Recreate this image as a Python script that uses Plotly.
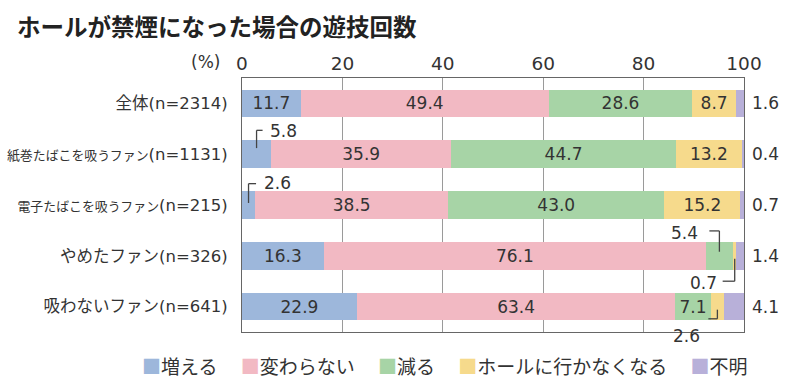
import plotly.graph_objects as go

# ---------------- data ----------------
title_text = "ホールが禁煙になった場合の遊技回数"
categories = ["全体(n=2314)", "紙巻たばこを吸うファン(n=1131)", "電子たばこを吸うファン(n=215)",
              "やめたファン(n=326)", "吸わないファン(n=641)"]
series_names = ["増える", "変わらない", "減る", "ホールに行かなくなる", "不明"]
increase = [11.7, 5.8, 2.6, 16.3, 22.9]
unchanged = [49.4, 35.9, 38.5, 76.1, 63.4]
decrease = [28.6, 44.7, 43.0, 5.4, 7.1]
stop_going = [8.7, 13.2, 15.2, 0.7, 2.6]
unknown = [1.6, 0.4, 0.7, 1.4, 4.1]
x_ticks = [0, 20, 40, 60, 80, 100]
unit_label = "(%)"

# ---------------- style ----------------
CJK = "Noto Sans CJK JP"
NUM = "DejaVu Sans, Noto Sans CJK JP"
TXT = "#333333"
colors = ["#9DB7DB", "#F2B9C3", "#A7D4A6", "#F6DA8C", "#B8B0D9"]
name_sizes = [16.5, 12.9, 12.9, 16.5, 16.5]
INSIDE_MIN = 7.0
PLOT_H = 392 - 78 - 60
ROW_PX = PLOT_H / len(categories)

series = [increase, unchanged, decrease, stop_going, unknown]
rows = list(range(len(categories)))

fig = go.Figure()
for s, (name, vals, col) in enumerate(zip(series_names, series, colors)):
    texts = [f"{v:.1f}" if (v >= INSIDE_MIN and s < len(series) - 1) else "" for v in vals]
    fig.add_trace(go.Bar(
        x=vals, y=rows, orientation="h", name=name, width=0.54,
        marker=dict(color=col, line=dict(width=0)),
        text=texts, textposition="inside", insidetextanchor="middle", textangle=0,
        constraintext="none",
        textfont=dict(size=17, color=TXT, family=NUM),
        showlegend=False, hoverinfo="skip", cliponaxis=False,
    ))

annotations = []
shapes = []

# right-hand labels for the last series
for i, v in enumerate(unknown):
    annotations.append(dict(x=100, y=i, xref="x", yref="y", text=f"{v:.1f}", showarrow=False,
                            xanchor="left", yanchor="middle", xshift=6,
                            font=dict(size=17, color=TXT, family=NUM)))

# callouts for small segments: (row, series index, horizontal dir, vertical dir, y_start, y_end, h_len, text_gap, text_dy)
callouts = [
    (1, 0, +1, -1, 0.12, 0.47, 1.2, 1.1, 0.46),
    (2, 0, +1, -1, 0.04, 0.42, 1.5, 1.2, 0.44),
    (3, 2, -1, -1, 0.08, 0.49, 2.0, 1.8, 0.45),
    (3, 3, -1, +1, 0.06, 0.50, 2.4, 0.8, 0.53),
    (4, 3, -1, +1, 0.06, 0.24, 1.8, 1.2, 0.58),
]
for (r, s, hx, vy, y0, y1, hl, tg, tdy) in callouts:
    start = sum(series[k][r] for k in range(s))
    v = series[s][r]
    cx = start + v / 2
    ya = r + vy * y0
    yb = r + vy * y1
    shapes.append(dict(type="line", xref="x", yref="y", x0=cx, x1=cx, y0=ya, y1=yb,
                       line=dict(color="#444", width=1.3)))
    shapes.append(dict(type="line", xref="x", yref="y", x0=cx, x1=cx + hx * hl, y0=yb, y1=yb,
                       line=dict(color="#444", width=1.3)))
    annotations.append(dict(x=cx + hx * (hl + tg), y=r, xref="x", yref="y",
                            yshift=-vy * tdy * ROW_PX,
                            text=f"{v:.1f}", showarrow=False,
                            xanchor="left" if hx > 0 else "right", yanchor="middle",
                            font=dict(size=17, color=TXT, family=NUM)))

# unit label
annotations.append(dict(x=0, y=1, xref="paper", yref="paper", text=unit_label, showarrow=False,
                        xanchor="right", yanchor="middle", xshift=-20, yshift=16,
                        font=dict(size=17, color=TXT, family=NUM)))

# legend (drawn as text with coloured squares)
legend_text = "　 ".join(f"<span style='color:{c}'>■</span>{n}" for n, c in zip(series_names, colors))
annotations.append(dict(x=0.405, y=0, xref="paper", yref="paper", text=legend_text, showarrow=False,
                        xanchor="center", yanchor="middle", yshift=-33,
                        font=dict(size=19, color=TXT, family=CJK)))


def tick_label(label, size):
    name, rest = label.split("(", 1)
    return (f"<span style='font-size:{size}px;font-family:\"{CJK}\"'>{name}</span>"
            f"<span style='font-size:16.5px'>({rest}</span>")


ticktext = [tick_label(c, sz) for c, sz in zip(categories, name_sizes)]

fig.update_layout(
    width=800, height=392,
    margin=dict(l=242, r=56, t=78, b=60, autoexpand=False),
    barmode="stack",
    plot_bgcolor="white", paper_bgcolor="white",
    font=dict(family=CJK, color=TXT),
    title=dict(text=f"<b>{title_text}</b>", x=17 / 800, xref="container", xanchor="left",
               y=1 - 28 / 392, yref="container", yanchor="middle",
               font=dict(size=23.5, color="#222222", family=CJK)),
    xaxis=dict(range=[0, 100], side="top", tickvals=x_ticks, ticktext=[str(t) for t in x_ticks],
               tickfont=dict(size=18.5, color=TXT, family=NUM),
               showgrid=True, gridcolor="#9a9a9a", gridwidth=1,
               showline=True, linecolor="#666666", linewidth=1, mirror=True,
               zeroline=False, ticks="", fixedrange=True, automargin=False),
    yaxis=dict(range=[4.5, -0.5], tickvals=rows, ticktext=ticktext,
               tickfont=dict(size=16.5, color=TXT, family=NUM),
               showgrid=False, showline=True, linecolor="#666666", linewidth=1, mirror=True,
               zeroline=False, ticks="", ticklabelstandoff=10, fixedrange=True, automargin=False),
    annotations=annotations,
    shapes=shapes,
)

fig.write_html("out.html", config={"displayModeBar": False},
               post_script="document.body.style.margin='0';document.body.style.overflow='hidden';")
